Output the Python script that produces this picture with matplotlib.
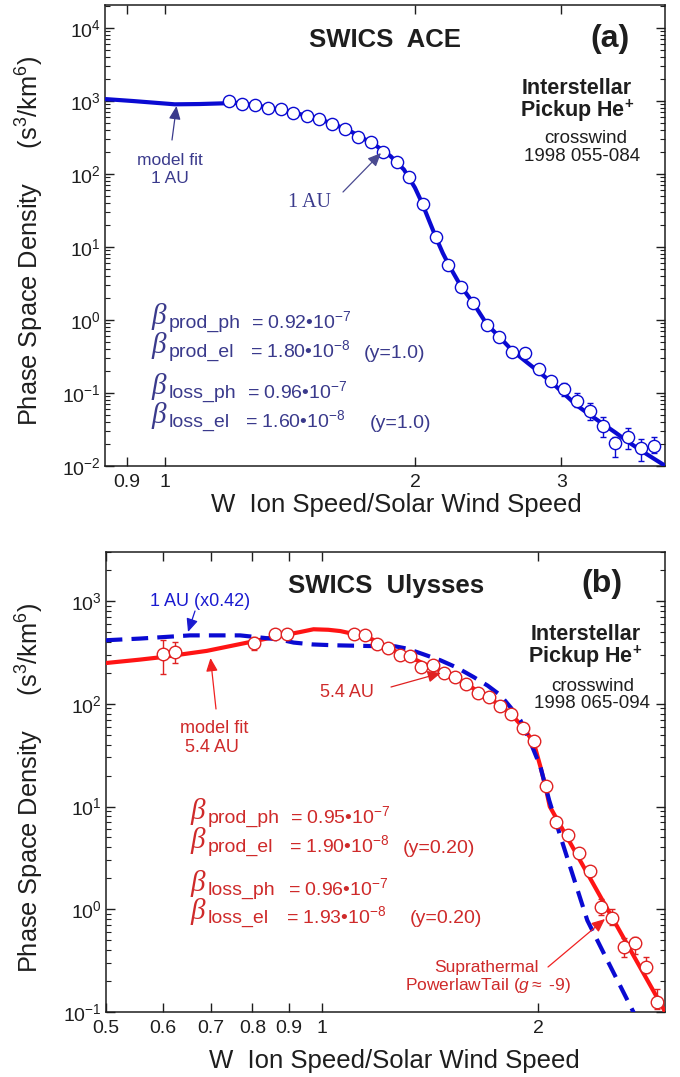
import matplotlib
matplotlib.use('Agg')
import matplotlib.pyplot as plt
import numpy as np
from matplotlib.ticker import LogLocator, NullLocator, FixedLocator, FixedFormatter, NullFormatter

plt.rcParams['font.family'] = ['Liberation Sans', 'DejaVu Sans']
plt.rcParams['mathtext.fontset'] = 'custom'
plt.rcParams['mathtext.rm'] = 'Liberation Sans'
plt.rcParams['mathtext.it'] = 'Liberation Sans:italic'
plt.rcParams['mathtext.bf'] = 'Liberation Sans:bold'

# ---------------- Panel (a): SWICS ACE, 1 AU ----------------
ace_w = [1.193, 1.239, 1.284, 1.329, 1.380, 1.428, 1.481, 1.534, 1.591, 1.648,
         1.710, 1.771, 1.832, 1.902, 1.969, 2.044, 2.119, 2.194, 2.273, 2.352,
         2.441, 2.526, 2.617, 2.710, 2.817, 2.916, 3.020, 3.130, 3.245, 3.365,
         3.485, 3.613, 3.742, 3.876]
ace_f = [1009, 918, 889, 801, 770, 685, 630, 567, 484, 409,
         324, 277, 202, 147, 91.8, 38.8, 13.8, 5.72, 2.86, 1.69,
         0.846, 0.590, 0.368, 0.350, 0.211, 0.147, 0.112, 0.0785, 0.0573, 0.0357,
         0.0205, 0.0252, 0.0178, 0.0190]
# error bar ends (None = no visible bar)
ace_err_lo = [None] * 25 + [0.135, 0.092, 0.065, 0.0427, 0.0252, 0.0134, 0.0169, 0.0118, 0.0149]
ace_err_hi = [None] * 25 + [0.160, 0.136, 0.099, 0.0723, 0.0465, 0.0252, 0.0328, 0.0234, 0.0247]

ace_model_w = [0.847, 0.916, 1.028, 1.10, 1.174, 1.21, 1.26, 1.31, 1.36, 1.41,
               1.46, 1.51, 1.56, 1.62, 1.68, 1.74, 1.80, 1.87, 1.94, 2.00,
               2.04, 2.08, 2.12, 2.16, 2.20, 2.27, 2.35, 2.44, 2.53, 2.62,
               2.72, 2.82, 2.92, 3.02, 3.13, 3.25, 3.37, 3.49, 3.61, 3.74,
               3.87, 4.0]
ace_model_f = [1065, 1000, 902, 910, 930, 950, 905, 840, 780, 715,
               655, 595, 530, 450, 375, 300, 240, 175, 115, 65,
               40, 23, 13.5, 8.3, 5.5, 2.95, 1.72, 0.88, 0.58, 0.38,
               0.27, 0.195, 0.14, 0.099, 0.068, 0.050, 0.0375, 0.0285, 0.0215, 0.0164,
               0.0128, 0.0101]

ace_xticks = [0.9, 1, 2, 3]
ace_xticklabels = ['0.9', '1', '2', '3']

# ---------------- Panel (b): SWICS Ulysses, 5.4 AU ----------------
uly_w = [0.601, 0.624, 0.803, 0.861, 0.893, 1.106, 1.146, 1.193, 1.236, 1.282,
         1.327, 1.375, 1.427, 1.480, 1.533, 1.588, 1.646, 1.705, 1.771, 1.834,
         1.901, 1.970, 2.046, 2.119, 2.200, 2.276, 2.363, 2.446, 2.534, 2.630,
         2.722, 2.826, 2.927]
uly_f = [303, 319, 390, 482, 474, 474, 464, 385, 352, 297,
         290, 228, 237, 200, 182, 155, 127, 116, 95.3, 80.4,
         58.7, 43.8, 15.7, 7.08, 5.26, 3.49, 2.35, 1.05, 0.831, 0.431,
         0.465, 0.275, 0.126]
uly_err_lo = [193, 252, 331] + [None] * 24 + [0.87, 0.70, 0.34, 0.366, 0.24, 0.108]
uly_err_hi = [414, 395, 443] + [None] * 24 + [1.25, 1.00, 0.52, 0.54, 0.34, 0.166]

uly_model_w = [0.5, 0.558, 0.6, 0.691, 0.794, 0.87, 0.932, 0.973, 1.02, 1.06,
               1.106, 1.146, 1.19, 1.24, 1.28, 1.33, 1.38, 1.43, 1.48, 1.53,
               1.59, 1.65, 1.71, 1.77, 1.83, 1.90, 1.97, 2.013, 2.046, 2.074, 3.0]
uly_model_f = [249, 269, 285, 327, 399, 455, 499, 531, 525, 510,
               478, 458, 405, 350, 310, 283, 248, 225, 200, 180,
               155, 131, 113, 96, 80, 60, 42, 24.3, 15.5, 10.0, 0.101]

ace_scaled_w = [0.5, 0.558, 0.655, 0.769, 0.875, 0.913, 0.97, 1.037, 1.16, 1.265,
                1.313, 1.38, 1.461, 1.54, 1.625, 1.70, 1.771, 1.83, 1.888, 1.95,
                2.013, 2.07, 2.147, 2.24, 2.339, 2.493, 2.715]
ace_scaled_f = [415, 431, 463, 463, 421, 394, 378, 371, 365, 362,
                344, 305, 265, 225, 182, 150, 121, 92, 69, 42,
                24.3, 11.5, 5.06, 2.0, 0.78, 0.32, 0.098]

uly_xticks = [0.5, 0.6, 0.7, 0.8, 0.9, 1, 2]
uly_xticklabels = ['0.5', '0.6', '0.7', '0.8', '0.9', '1', '2']

# ---------------- styling ----------------
W, H = 680, 1077
NAVY = '#3a3a8c'
BLUE = '#0a0ad2'
RED_LINE = '#ff1414'
RED_TXT = '#cf2a2a'
RED_MK = '#e02222'
DARK = '#1e1e1e'


def P(x, y):
    return (x / W, 1 - y / H)


fig = plt.figure(figsize=(6.8, 10.77), dpi=100)

axa = fig.add_axes([105 / W, 1 - 466 / H, 560 / W, 461 / H])
axb = fig.add_axes([105.7 / W, 1 - 1012 / H, 559.3 / W, 460 / H])


def err_arrays(f, lo, hi):
    el = [0 if l is None else fv - l for fv, l in zip(f, lo)]
    eh = [0 if h is None else h - fv for fv, h in zip(f, hi)]
    return [el, eh]


def style_axis(ax, xticks, xlabels):
    ax.set_xscale('log')
    ax.set_yscale('log')
    ax.xaxis.set_major_locator(FixedLocator(xticks))
    ax.xaxis.set_major_formatter(FixedFormatter(xlabels))
    ax.xaxis.set_minor_locator(NullLocator())
    ax.yaxis.set_major_locator(LogLocator(base=10, numticks=20))
    ax.yaxis.set_minor_locator(LogLocator(base=10, subs=np.arange(2, 10), numticks=20))
    ax.yaxis.set_minor_formatter(NullFormatter())
    ax.tick_params(which='both', direction='in', top=True, right=True, colors=DARK)
    ax.tick_params(which='major', length=6.5, width=1.0, labelsize=14)
    ax.tick_params(which='minor', length=3.6, width=0.8)
    ax.tick_params(axis='x', pad=6)
    ax.tick_params(axis='y', pad=3)
    for s in ax.spines.values():
        s.set_linewidth(1.1)
        s.set_color(DARK)


# ---- panel (a) ----
axa.plot(ace_model_w, ace_model_f, color=BLUE, lw=3.0, zorder=3, solid_capstyle='butt')
axa.errorbar(ace_w, ace_f, yerr=err_arrays(ace_f, ace_err_lo, ace_err_hi), fmt='none',
             ecolor=BLUE, elinewidth=1.0, capsize=2.2, capthick=1.0, zorder=4)
axa.plot(ace_w, ace_f, 'o', ms=8.8, mfc='white', mec=BLUE, mew=1.0, zorder=5)
style_axis(axa, ace_xticks, ace_xticklabels)
axa.set_xlim(0.847, 4.0)
axa.set_ylim(1e-2, 2.07e4)

# ---- panel (b) ----
axb.plot(uly_model_w, uly_model_f, color=RED_LINE, lw=3.0, zorder=3, solid_capstyle='butt')
axb.plot(ace_scaled_w, ace_scaled_f, color=BLUE, lw=3.0, dashes=(4, 2.2), zorder=3.5)
axb.errorbar(uly_w, uly_f, yerr=err_arrays(uly_f, uly_err_lo, uly_err_hi), fmt='none',
             ecolor=RED_MK, elinewidth=1.0, capsize=2.2, capthick=1.0, zorder=4)
axb.plot(uly_w, uly_f, 'o', ms=9.0, mfc='white', mec=RED_MK, mew=1.0, zorder=5)
style_axis(axb, uly_xticks, uly_xticklabels)
axb.set_xlim(0.5, 3.0)
axb.set_ylim(1e-1, 3.0e3)

# ---- axis labels ----
ylab = 'Phase Space Density     (s$^3$/km$^6$)'
fig.text(*P(30, 241), ylab, rotation=90, ha='center', va='center', fontsize=18.3, color=DARK)
fig.text(*P(30, 788), ylab, rotation=90, ha='center', va='center', fontsize=18.3, color=DARK)
xlab = 'W  Ion Speed/Solar Wind Speed'
fig.text(*P(396, 512), xlab, ha='center', va='baseline', fontsize=18.5, color=DARK)
fig.text(*P(394, 1068), xlab, ha='center', va='baseline', fontsize=18.5, color=DARK)

# ---- titles / labels ----
fig.text(*P(385, 46.7), 'SWICS  ACE', ha='center', va='baseline', fontsize=18.5,
         fontweight='bold', color=DARK)
fig.text(*P(610, 46.6), '(a)', ha='center', va='baseline', fontsize=23, fontweight='bold', color=DARK)
fig.text(*P(386, 592.7), 'SWICS  Ulysses', ha='center', va='baseline', fontsize=18.5,
         fontweight='bold', color=DARK)
fig.text(*P(602, 591.6), '(b)', ha='center', va='baseline', fontsize=23, fontweight='bold', color=DARK)

for (cx, by, s, bold, fs) in [
        (577, 94, 'Interstellar', True, 15.5), (577, 117.5, r'Pickup He$^{\mathbf{+}}$', True, 15.5),
        (586, 143.3, 'crosswind', False, 13.5), (582.5, 161, '1998 055-084', False, 13.5),
        (585.8, 640.5, 'Interstellar', True, 15.5), (585, 663.5, r'Pickup He$^{\mathbf{+}}$', True, 15.5),
        (592.5, 690.7, 'crosswind', False, 13.5), (591.7, 708.3, '1998 065-094', False, 13.5)]:
    fig.text(*P(cx, by), s, ha='center', va='baseline', fontsize=fs,
             fontweight='bold' if bold else 'normal', color=DARK)

# ---- beta parameter texts ----
def beta_line(xb, yb, sub, xeq, val, color, extra=None, xex=None, yex=None):
    fig.text(*P(xb, yb - 4), 'β', fontsize=21, fontstyle='italic',
             family=['Liberation Serif', 'DejaVu Serif'], color=color, va='baseline', ha='left')
    fig.text(*P(xb + 16.5, yb), sub, fontsize=14, color=color, va='baseline', ha='left')
    fig.text(*P(xeq, yb), '= ' + val, fontsize=14, color=color, va='baseline', ha='left')
    if extra:
        fig.text(*P(xex, yex), extra, fontsize=14, color=color, va='baseline', ha='left')


beta_line(151.7, 328.3, 'prod_ph', 250.7, '0.92•10$^{-7}$', NAVY)
beta_line(151.7, 357.3, 'prod_el', 250, '1.80•10$^{-8}$', NAVY, '(y=1.0)', 364, 358.3)
beta_line(151.7, 398.3, 'loss_ph', 246.7, '0.96•10$^{-7}$', NAVY)
beta_line(151.7, 426.7, 'loss_el', 245, '1.60•10$^{-8}$', NAVY, '(y=1.0)', 369.3, 428)

beta_line(190.7, 822.7, 'prod_ph', 290, '0.95•10$^{-7}$', RED_TXT)
beta_line(190.7, 851.7, 'prod_el', 289, '1.90•10$^{-8}$', RED_TXT, '(y=0.20)', 402.7, 853.3)
beta_line(190.7, 895, 'loss_ph', 288, '0.96•10$^{-7}$', RED_TXT)
beta_line(190.7, 922.7, 'loss_el', 286, '1.93•10$^{-8}$', RED_TXT, '(y=0.20)', 409.3, 923.3)

# ---- annotations ----
def arrow(tail, tip, color, lw=0.9):
    fig.add_artist(matplotlib.patches.FancyArrowPatch(
        P(*tail), P(*tip), transform=fig.transFigure, arrowstyle='-|>,head_length=5,head_width=2.2',
        color=color, lw=lw, shrinkA=0, shrinkB=0, mutation_scale=1.6))

fig.text(*P(170, 165), 'model fit', ha='center', va='baseline', fontsize=12.5, color=NAVY)
fig.text(*P(170, 183), '1 AU', ha='center', va='baseline', fontsize=12.5, color=NAVY)
arrow((172, 140), (176.5, 106), NAVY)
fig.text(*P(310, 207), '1 AU', ha='center', va='baseline', fontsize=14.5, color=NAVY,
         family=['Liberation Serif', 'DejaVu Serif'])
arrow((343, 192), (381, 153), '#4a4a90')

fig.text(*P(200.5, 606), '1 AU (x0.42)', ha='center', va='baseline', fontsize=13, color='#1a1ad0')
arrow((195, 611), (188, 632), '#1a1ad0')
fig.text(*P(214, 732.7), 'model fit', ha='center', va='baseline', fontsize=13, color=RED_TXT)
fig.text(*P(212, 751.7), '5.4 AU', ha='center', va='baseline', fontsize=13, color=RED_TXT)
arrow((216, 709), (210.5, 658), '#f02020')
fig.text(*P(347, 696.7), '5.4 AU', ha='center', va='baseline', fontsize=13, color=RED_TXT)
arrow((391, 687), (441, 673), '#e02020')
fig.text(*P(486, 971.7), 'Suprathermal', ha='center', va='baseline', fontsize=12.5, color=RED_TXT)
fig.text(*P(487.5, 990), r'PowerlawTail ($\mathit{g}$$\approx$ -9)', ha='center', va='baseline',
         fontsize=12.5, color=RED_TXT)
arrow((548, 967), (605, 919), '#f02020')

fig.savefig('out.png', dpi=100)
